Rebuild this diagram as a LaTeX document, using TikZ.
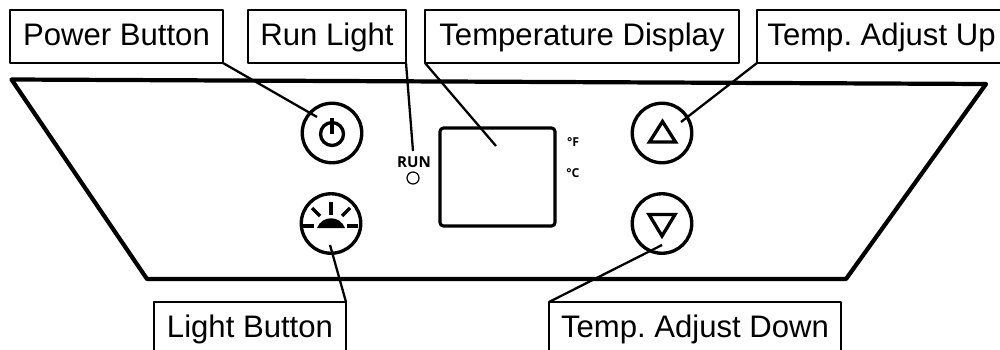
\documentclass[tikz,border=0pt]{standalone}
\usepackage{fontspec}
\setmainfont{Liberation Sans}
\newfontfamily\runfont{Open Sans}
\frenchspacing
\tikzset{
  label box/.style={draw, line width=0.55pt, inner sep=0pt, outer sep=0pt, minimum height=0.53cm, text height=0.24cm, text depth=0.07cm, font=\fontsize{8.85}{10}\selectfont},
  button/.style={draw, circle, line width=0.95pt, inner sep=0pt, outer sep=0pt, minimum size=0.595cm},
  lead/.style={line width=0.65pt},
  icon/.style={line width=0.95pt},
  small text/.style={inner sep=0pt, font=\runfont\bfseries\fontsize{4.3}{5}\selectfont},
  unit text/.style={inner sep=0pt, font=\runfont\bfseries\fontsize{3.5}{5}\selectfont},
}
\begin{document}
\begin{tikzpicture}[line join=round]
  \useasboundingbox (0, 0) rectangle (10, 3.49);
  \clip (0, 0) rectangle (10, 3.49);
  % panel
  \draw[line width=1.2pt] (0.115, 2.695) -- (9.86, 2.65) -- (8.46, 0.70) -- (1.47, 0.70) -- cycle;
  % display and run light
  \draw[line width=0.9pt, rounded corners=1pt] (4.40, 2.21) rectangle (5.55, 1.23);
  \node[small text] (runtext) at (4.14, 1.87) {RUN};
  \node[draw, circle, line width=0.35pt, inner sep=0pt, minimum size=0.12cm] (runlight) at (4.13, 1.71) {};
  \node[unit text] (fahr) at (5.73, 2.07) {°F};
  \node[unit text] (cels) at (5.73, 1.76) {°C};
  % buttons
  \node[button] (powerbtn) at (3.32, 2.16) {};
  \node[button] (lightbtn) at (3.31, 1.255) {};
  \node[button] (upbtn) at (6.62, 2.16) {};
  \node[button] (downbtn) at (6.62, 1.255) {};
  % power icon
  \draw[icon] (3.32, 2.15) circle (0.115);
  \draw[icon] (3.32, 2.31) -- (3.32, 2.15);
  % light icon
  \draw[icon] (3.03, 1.23) -- (3.14, 1.23);
  \draw[icon] (3.47, 1.23) -- (3.58, 1.23);
  \draw[icon] (3.31, 1.47) -- (3.31, 1.34);
  \draw[icon] (3.12, 1.41) -- (3.20, 1.33);
  \draw[icon] (3.50, 1.41) -- (3.42, 1.33);
  \fill (3.17, 1.21) .. controls (3.22, 1.34) and (3.40, 1.34) .. (3.45, 1.21) -- cycle;
  % up and down icons
  \draw[icon, miter limit=10, line join=miter] (6.625, 2.275) -- (6.495, 2.07) -- (6.755, 2.07) -- cycle;
  \draw[icon, miter limit=10, line join=miter] (6.49, 1.345) -- (6.75, 1.345) -- (6.62, 1.13) -- cycle;
  % labels
  \node[label box, minimum width=2.13cm] (powerbox) at (1.165, 3.125) {Power Button};
  \node[label box, minimum width=1.58cm] (runbox) at (3.27, 3.125) {Run Light};
  \node[label box, minimum width=3.14cm] (tempbox) at (5.82, 3.125) {Temperature Display};
  \node[label box, minimum width=2.49cm] (upbox) at (8.815, 3.125) {Temp. Adjust Up};
  \node[label box, minimum width=1.92cm] (lightbox) at (2.50, 0.205) {Light Button};
  \node[label box, minimum width=2.92cm] (downbox) at (6.95, 0.205) {Temp. Adjust Down};
  % leader lines
  \coordinate (powerend) at (3.17, 2.32);
  \coordinate (runend) at (4.13, 1.98);
  \coordinate (tempend) at (4.96, 2.03);
  \coordinate (upend) at (6.81, 2.27);
  \coordinate (lightend) at (3.30, 1.04);
  \coordinate (downend) at (6.62, 1.04);
  \draw[lead] (powerbox.south east) -- (powerend);
  \draw[lead] (runbox.south east) -- (runend);
  \draw[lead] (tempbox.south west) -- (tempend);
  \draw[lead] (upbox.south west) -- (upend);
  \draw[lead] (lightbox.north east) -- (lightend);
  \draw[lead] (downbox.north west) -- (downend);
\end{tikzpicture}
\end{document}
